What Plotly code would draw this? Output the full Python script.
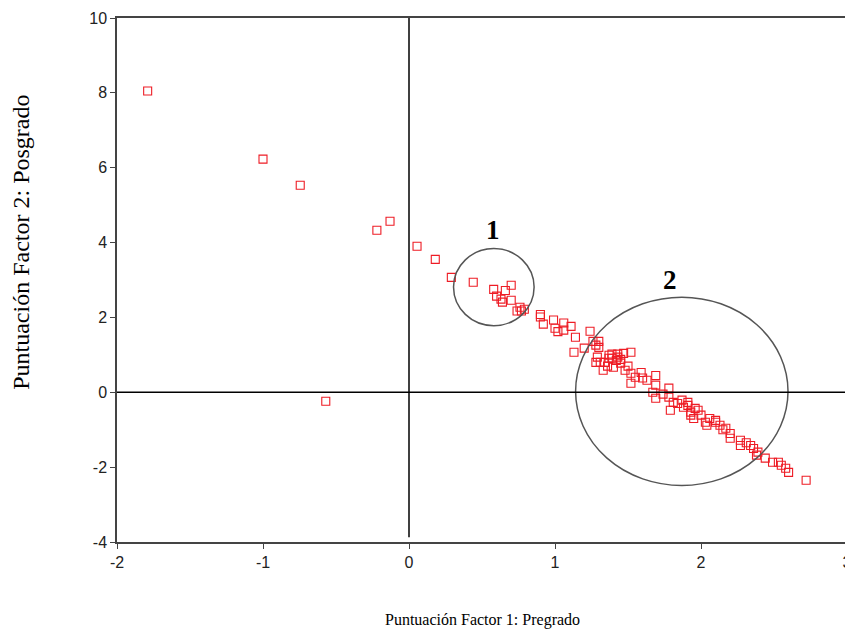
import plotly.graph_objects as go

factor1 = [
    -1.79, -1.00, -0.745, -0.22, -0.13, -0.57, 0.055, 0.18, 0.29, 0.44,
    0.58, 0.66, 0.70, 0.60, 0.63, 0.64, 0.70, 0.74, 0.76, 0.79, 0.77,
    0.90, 0.90, 0.92, 0.99, 1.00, 1.02, 1.06, 1.06, 1.11, 1.14, 1.24, 1.20, 1.13,
    1.26, 1.30, 1.30, 1.31, 1.29, 1.37, 1.39, 1.43, 1.47, 1.28, 1.28, 1.34, 1.37,
    1.39, 1.43, 1.52, 1.33, 1.40, 1.45, 1.48, 1.52, 1.52, 1.59, 1.63, 1.69, 1.69,
    1.67, 1.69, 1.78, 1.78, 1.81, 1.87, 1.91, 1.96, 1.79, 1.88, 1.91, 1.93, 1.93,
    1.98, 2.00, 2.03, 2.04, 2.10, 2.10, 2.13, 2.17, 2.20, 2.20, 2.27, 2.27, 2.34,
    2.36, 2.39, 2.38, 2.44, 2.49, 2.53, 2.55, 2.58, 2.60, 2.72,
    1.45, 1.50, 1.36, 1.42, 1.55, 1.60, 1.74, 1.84, 1.95, 2.06, 2.15, 2.31,
]
factor2 = [
    8.05, 6.23, 5.53, 4.33, 4.57, -0.24, 3.90, 3.55, 3.07, 2.94,
    2.75, 2.72, 2.86, 2.57, 2.49, 2.41, 2.46, 2.17, 2.27, 2.22, 2.17,
    2.08, 2.01, 1.82, 1.93, 1.71, 1.62, 1.85, 1.66, 1.76, 1.47, 1.63, 1.18, 1.07,
    1.36, 1.36, 1.20, 0.80, 0.94, 0.99, 0.91, 0.94, 1.04, 1.26, 0.80, 0.80, 0.91,
    1.02, 1.02, 1.07, 0.59, 0.67, 0.78, 0.59, 0.51, 0.24, 0.53, 0.32, 0.45, 0.19,
    0.00, -0.16, 0.11, -0.13, -0.27, -0.21, -0.35, -0.43, -0.48, -0.40, -0.27, -0.53, -0.61,
    -0.48, -0.61, -0.80, -0.88, -0.75, -0.80, -0.88, -0.96, -1.10, -1.23, -1.28, -1.42, -1.42,
    -1.50, -1.60, -1.68, -1.76, -1.87, -1.87, -1.95, -2.03, -2.14, -2.35,
    0.88, 0.70, 0.70, 0.85, 0.40, 0.38, -0.05, -0.30, -0.70, -0.70, -1.00, -1.35,
]

x_ticks = [-2, -1, 0, 1, 2, 3]
y_ticks = [-4, -2, 0, 2, 4, 6, 8, 10]

# ellipses marking groups (data coords)
groups = [
    {"label": "1", "x0": 0.305, "x1": 0.857, "y0": 1.78, "y1": 3.84, "lx": 0.574, "ly": 4.33},
    {"label": "2", "x0": 1.141, "x1": 2.596, "y0": -2.49, "y1": 2.54, "lx": 1.79, "ly": 2.99},
]

fig = go.Figure()
fig.add_trace(go.Scatter(
    x=factor1, y=factor2, mode="markers",
    marker=dict(symbol="square-open", size=8, color="#ee1c25", line=dict(width=1.1)),
    showlegend=False, hoverinfo="x+y",
))

shapes = []
annotations = []
for g in groups:
    shapes.append(dict(type="circle", xref="x", yref="y",
                       x0=g["x0"], x1=g["x1"], y0=g["y0"], y1=g["y1"],
                       line=dict(color="#555555", width=1.5)))
    annotations.append(dict(x=g["lx"], y=g["ly"], xref="x", yref="y", text="<b>" + g["label"] + "</b>",
                            showarrow=False, font=dict(family="Liberation Serif", size=27, color="#000000")))

# zero lines
shapes.append(dict(type="line", xref="x", yref="y", x0=0, x1=0, y0=-3.87, y1=10,
                   line=dict(color="#000000", width=1.5)))
shapes.append(dict(type="line", xref="x", yref="y", x0=-2, x1=3, y0=0, y1=0,
                   line=dict(color="#000000", width=1.5)))

annotations.append(dict(x=0.5, y=-0.149, xref="paper", yref="paper", text="Puntuación Factor 1: Pregrado",
                        showarrow=False, yanchor="middle",
                        font=dict(family="Liberation Serif", size=16, color="#000000")))
annotations.append(dict(x=-0.1315, y=0.571, xref="paper", yref="paper", text="Puntuación Factor 2: Posgrado",
                        showarrow=False, textangle=-90, xanchor="center", yanchor="middle",
                        font=dict(family="Liberation Serif", size=24, color="#000000")))

axis_common = dict(showgrid=False, zeroline=False, showline=True, linecolor="#444444", linewidth=1.5,
                   mirror=True, ticks="outside", ticklen=5, tickcolor="#444444", automargin=False,
                   tickfont=dict(family="Liberation Sans", size=16, color="#222222"))

# page body has an 8px margin, so the figure is sized to fit the 853x639 window
fig.update_layout(
    width=845, height=631,
    margin=dict(l=109, r=6, t=10, b=97),
    paper_bgcolor="white", plot_bgcolor="white",
    xaxis=dict(range=[-2, 3], tickvals=x_ticks, ticktext=[str(v) for v in x_ticks], **axis_common),
    yaxis=dict(range=[-4, 10], tickvals=y_ticks, ticktext=[str(v) for v in y_ticks], **axis_common),
    shapes=shapes, annotations=annotations,
)

fig.write_html("out.html")
